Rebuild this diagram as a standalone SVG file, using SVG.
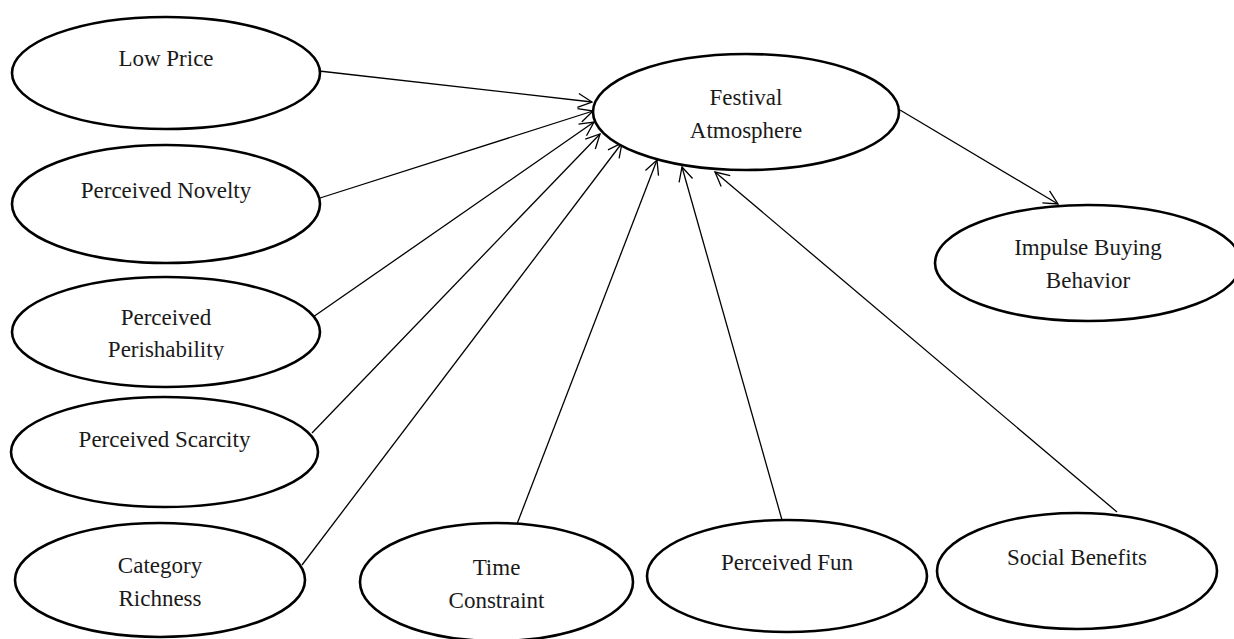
<svg xmlns="http://www.w3.org/2000/svg" width="1234" height="639" viewBox="0 0 1234 639">
<defs>
<marker id="arr" markerUnits="userSpaceOnUse" viewBox="-16 -8 18 16" refX="0" refY="0" markerWidth="18" markerHeight="16" orient="auto" overflow="visible">
<path d="M -14 -7 L 0 0 L -14 7" fill="none" stroke="#000" stroke-width="1.3"/>
</marker>
<clipPath id="clipPer"><rect x="0" y="0" width="400" height="360"/></clipPath>
</defs>
<style>
.n ellipse{fill:#fff;stroke:#000;stroke-width:2.6}
.n text{font-family:"Liberation Serif","Times New Roman",serif;font-size:23px;fill:#1a1a1a;text-anchor:middle}
#edges line{stroke:#000;stroke-width:1.3;fill:none;marker-end:url(#arr)}
</style>
<rect width="1234" height="639" fill="#fff"/>
<g id="edges">
<line x1="319" y1="71" x2="592" y2="102"/>
<line x1="320" y1="198" x2="593" y2="111"/>
<line x1="313" y1="317" x2="594" y2="122"/>
<line x1="312" y1="433" x2="600" y2="134"/>
<line x1="302" y1="565" x2="622" y2="143"/>
<line x1="517" y1="524" x2="657" y2="160"/>
<line x1="782" y1="520" x2="682" y2="167"/>
<line x1="1117" y1="512" x2="715" y2="172"/>
<line x1="900" y1="110" x2="1058" y2="204"/>
</g>
<g id="low-price" class="n"><ellipse cx="166" cy="73" rx="154" ry="56"/><text x="166" y="66">Low Price</text></g>
<g id="perceived-novelty" class="n"><ellipse cx="166" cy="204" rx="154" ry="59"/><text x="166" y="198">Perceived Novelty</text></g>
<g id="perceived-perishability" class="n"><ellipse cx="166" cy="332" rx="154" ry="55"/><text x="166" y="325">Perceived</text><text x="166" y="357" clip-path="url(#clipPer)">Perishability</text></g>
<g id="perceived-scarcity" class="n"><ellipse cx="164.5" cy="452" rx="153.5" ry="55"/><text x="164.5" y="447">Perceived Scarcity</text></g>
<g id="category-richness" class="n"><ellipse cx="160" cy="580" rx="145" ry="57"/><text x="160" y="573">Category</text><text x="160" y="606">Richness</text></g>
<g id="time-constraint" class="n"><ellipse cx="496.5" cy="582" rx="136.5" ry="59"/><text x="496.5" y="575">Time</text><text x="496.5" y="608">Constraint</text></g>
<g id="perceived-fun" class="n"><ellipse cx="787" cy="576" rx="140" ry="56"/><text x="787" y="570">Perceived Fun</text></g>
<g id="social-benefits" class="n"><ellipse cx="1077" cy="571" rx="140" ry="58"/><text x="1077" y="565">Social Benefits</text></g>
<g id="festival-atmosphere" class="n"><ellipse cx="746" cy="112" rx="153" ry="58"/><text x="746" y="105">Festival</text><text x="746" y="138">Atmosphere</text></g>
<g id="impulse-buying-behavior" class="n"><ellipse cx="1088" cy="263" rx="153" ry="58"/><text x="1088" y="255">Impulse Buying</text><text x="1088" y="288">Behavior</text></g>
</svg>
